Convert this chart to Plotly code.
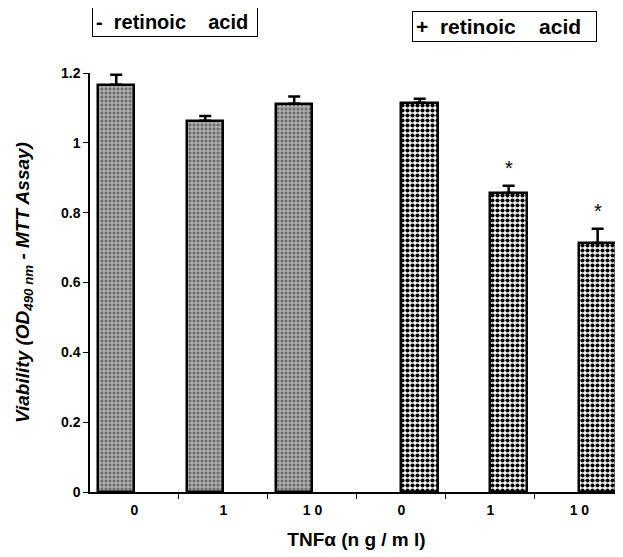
import plotly.graph_objects as go

# ---- data ----
doses = ["0", "1", "1 0"]
viability_minus_ra = [1.166, 1.063, 1.112]
err_minus_ra = [0.029, 0.014, 0.021]
viability_plus_ra = [1.115, 0.856, 0.713]
err_plus_ra = [0.011, 0.021, 0.041]
signif_plus_ra = [False, True, True]
group_labels = ["-\u00a0\u00a0retinoic\u00a0\u00a0\u00a0\u00a0acid\u00a0",
                "+\u00a0\u00a0retinoic\u00a0\u00a0\u00a0\u00a0acid\u00a0\u00a0"]
y_ticks = [0, 0.2, 0.4, 0.6, 0.8, 1, 1.2]

x_minus = [0, 1, 2]
x_plus = [3, 4, 5]
bar_w = 0.41

FONT = "Liberation Sans, Arial, sans-serif"

fig = go.Figure()
fig.add_trace(go.Bar(
    x=x_minus, y=viability_minus_ra, width=bar_w, offset=-bar_w,
    marker=dict(color="#808080",
                line=dict(color="black", width=2.5),
                pattern=dict(shape="+", fgcolor="#ffffff", bgcolor="#6e6e6e",
                             size=4, solidity=0.25, fillmode="replace")),
    error_y=dict(type="data", symmetric=False, array=err_minus_ra,
                 arrayminus=[0]*3, color="black", thickness=2.5, width=6),
    showlegend=False,
))
fig.add_trace(go.Bar(
    x=x_plus, y=viability_plus_ra, width=bar_w, offset=0,
    marker=dict(color="#ffffff",
                line=dict(color="black", width=2.5),
                pattern=dict(shape=".", fgcolor="#000000", bgcolor="#ffffff",
                             size=5, solidity=0.55, fillmode="replace")),
    error_y=dict(type="data", symmetric=False, array=err_plus_ra,
                 arrayminus=[0]*3, color="black", thickness=2.5, width=6),
    showlegend=False,
))

annotations = []
for xi, v, e, s in zip(x_plus, viability_plus_ra, err_plus_ra, signif_plus_ra):
    if s:
        annotations.append(dict(x=xi + bar_w / 2, y=v + e + 0.05, text="*",
                                showarrow=False, yanchor="middle",
                                font=dict(family=FONT, size=20, color="black")))

annotations.append(dict(xref="paper", yref="paper", x=0.003, y=1.122,
                        xanchor="left", yanchor="middle", text=group_labels[0],
                        showarrow=False, bordercolor="black", borderwidth=1,
                        borderpad=3, bgcolor="white",
                        font=dict(family=FONT, size=20, color="black", weight="bold")))
annotations.append(dict(xref="paper", yref="paper", x=0.604, y=1.112,
                        xanchor="left", yanchor="middle", text=group_labels[1],
                        showarrow=False, bordercolor="black", borderwidth=1,
                        borderpad=3, bgcolor="white",
                        font=dict(family=FONT, size=21, color="black", weight="bold")))

# page body has an 8px margin; margins compensate so the plot area lands where the reference has it
fig.update_layout(
    width=623, height=557,
    margin=dict(l=82, r=8, t=65, b=73),
    plot_bgcolor="white", paper_bgcolor="white",
    bargap=0,
    annotations=annotations,
    font=dict(family=FONT, color="black"),
)
fig.update_xaxes(
    automargin=False,
    range=[-0.5, 5.49],
    tickvals=x_minus + x_plus, ticktext=doses + doses,
    ticks="", ticklabelstandoff=4,
    tickfont=dict(family=FONT, size=14, weight="bold"),
    showline=True, linecolor="black", linewidth=1.5,
    showgrid=False, zeroline=False,
    minor=dict(tickvals=[0.5, 1.5, 2.5, 3.5, 4.5], ticks="outside",
               ticklen=5, tickcolor="black", tickwidth=1, showgrid=False),
    title=dict(text="TNFα (n g / m l)", standoff=16,
               font=dict(family=FONT, size=19, weight="bold")),
)
fig.update_yaxes(
    automargin=False,
    range=[0, 1.2],
    tickvals=y_ticks, ticktext=[f"{t:g}" for t in y_ticks],
    ticks="outside", ticklen=5, tickwidth=1, tickcolor="black",
    tickfont=dict(family=FONT, size=14, weight="bold"),
    showline=True, linecolor="black", linewidth=1.5,
    showgrid=False, zeroline=False,
    title=dict(text="Viability (OD<sub>490 nm</sub> - MTT Assay)", standoff=26,
               font=dict(family=FONT, size=19, weight="bold", style="italic")),
)

fig.write_html("out.html")
